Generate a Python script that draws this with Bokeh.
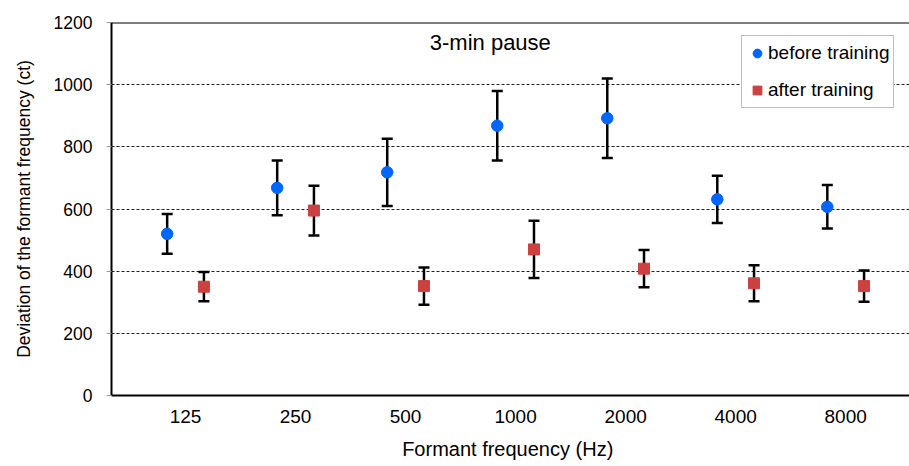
from bokeh.plotting import figure
from bokeh.models import (ColumnDataSource, Whisker, TeeHead, FixedTicker, Range1d,
                          Legend, LegendItem, Label, Span)
from bokeh.embed import file_html
from bokeh.resources import INLINE

# ---- data ----
categories = ["125", "250", "500", "1000", "2000", "4000", "8000"]
before_mean = [520, 668, 718, 868, 892, 631, 607]
before_err = [64, 88, 108, 112, 128, 76, 70]
after_mean = [350, 595, 352, 470, 408, 361, 352]
after_err = [47, 80, 60, 92, 60, 58, 50]
y_ticks = [0, 200, 400, 600, 800, 1000, 1200]
offset = 0.167

FONT = "Liberation Sans"

idx = list(range(len(categories)))
src_b = ColumnDataSource(dict(
    x=[i - offset for i in idx], y=before_mean,
    lo=[m - e for m, e in zip(before_mean, before_err)],
    hi=[m + e for m, e in zip(before_mean, before_err)]))
src_a = ColumnDataSource(dict(
    x=[i + offset for i in idx], y=after_mean,
    lo=[m - e for m, e in zip(after_mean, after_err)],
    hi=[m + e for m, e in zip(after_mean, after_err)]))

p = figure(width=909, height=466, output_backend="svg", toolbar_location=None,
           x_range=Range1d(-0.673, 6.58), y_range=Range1d(0, 1200),
           min_border_left=111, min_border_right=0, min_border_top=22, min_border_bottom=71)
p.outline_line_color = None
p.background_fill_color = "white"
p.border_fill_color = "white"

# grid
p.xgrid.grid_line_color = None
p.ygrid.ticker = FixedTicker(ticks=[200, 400, 600, 800, 1000])
p.ygrid.grid_line_color = "#222222"
p.ygrid.grid_line_dash = "3 2"
p.ygrid.grid_line_width = 1

# top border
p.add_layout(Span(location=1200, dimension="width", line_color="black", line_width=2))

# y axis
p.yaxis.ticker = FixedTicker(ticks=y_ticks)
p.yaxis.axis_line_color = "black"
p.yaxis.axis_line_width = 2
p.yaxis.major_tick_out = 5
p.yaxis.major_tick_in = 0
p.yaxis.major_tick_line_color = "#999999"
p.yaxis.minor_tick_line_color = None
p.yaxis.major_label_text_font = FONT
p.yaxis.major_label_text_font_size = "17.5px"
p.yaxis.major_label_text_color = "black"
p.yaxis.major_label_standoff = 14
p.yaxis.axis_label = "Deviation of the formant frequency (ct)"
p.yaxis.axis_label_text_font = FONT
p.yaxis.axis_label_text_font_size = "17.5px"
p.yaxis.axis_label_text_font_style = "normal"
p.yaxis.axis_label_text_color = "black"
p.yaxis.axis_label_standoff = 17

# x axis
p.xaxis.ticker = FixedTicker(ticks=idx)
p.xaxis.major_label_overrides = {i: c for i, c in zip(idx, categories)}
p.xaxis.axis_line_color = "black"
p.xaxis.axis_line_width = 2
p.xaxis.major_tick_line_color = None
p.xaxis.minor_tick_line_color = None
p.xaxis.major_label_text_font = FONT
p.xaxis.major_label_text_font_size = "19px"
p.xaxis.major_label_text_color = "black"
p.xaxis.major_label_standoff = 8
p.xaxis.axis_label = "Formant  frequency (Hz)"
p.xaxis.axis_label_text_font = FONT
p.xaxis.axis_label_text_font_size = "20px"
p.xaxis.axis_label_text_font_style = "normal"
p.xaxis.axis_label_text_color = "black"
p.xaxis.axis_label_standoff = 12

# error bars
for src in (src_b, src_a):
    w = Whisker(source=src, base="x", upper="hi", lower="lo",
                line_color="black", line_width=2.5,
                upper_head=TeeHead(size=11, line_color="black", line_width=2.5),
                lower_head=TeeHead(size=11, line_color="black", line_width=2.5))
    p.add_layout(w)

rb = p.scatter("x", "y", source=src_b, marker="circle", size=11.5,
               fill_color="#0066FF", line_color="#0066FF")
ra = p.scatter("x", "y", source=src_a, marker="square", size=11,
               fill_color="#CC4040", line_color="#CC4040")

legend = Legend(items=[LegendItem(label="before training", renderers=[rb]),
                       LegendItem(label="after training", renderers=[ra])],
                location=(630, 287), orientation="vertical",
                label_text_font=FONT, label_text_font_size="19px",
                label_text_color="black",
                glyph_width=22, glyph_height=26, spacing=11, label_standoff=0,
                padding=4, margin=0,
                border_line_color="#808080", border_line_width=1.5,
                background_fill_color="white", background_fill_alpha=1)
p.add_layout(legend)

p.add_layout(Label(x=2.77, y=1136, text="3-min pause", text_font=FONT,
                   text_font_size="22px", text_align="center",
                   text_baseline="middle", text_color="black"))

open("out.html", "w").write(file_html(p, INLINE))
